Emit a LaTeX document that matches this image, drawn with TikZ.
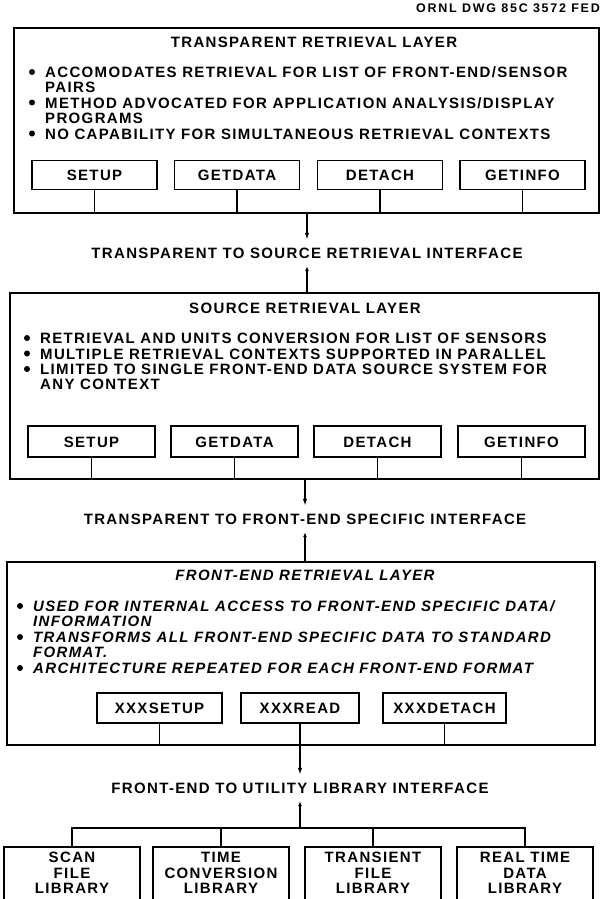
\documentclass[tikz,border=0pt]{standalone}
\usepackage{fontspec}
\setmainfont{Liberation Sans}[LetterSpace=9]
\usetikzlibrary{arrows.meta}
\begin{document}
\begin{tikzpicture}[x=1pt,y=-1pt,
  txt/.style={font=\fontsize{15}{15.5}\selectfont\bfseries, inner sep=0pt},
  itxt/.style={font=\fontsize{15}{15.5}\selectfont\bfseries\itshape, inner sep=0pt},
  frame/.style={draw, line width=1.6pt, inner sep=0pt},
  subbox/.style={draw, line width=1.6pt, txt, text height=11pt, text depth=0pt, minimum width=#1, minimum height=29pt},
  bdot/.style={circle, fill, inner sep=0pt, minimum size=6pt},
  iflabel/.style={txt, text height=11pt, text depth=0pt, inner ysep=7.5pt},
  conn/.style={line width=1.6pt},
  downarrow/.style={conn, -{Latex[length=7pt,width=4.5pt]}},
  uparrow/.style={conn, {Latex[length=5pt,width=4pt]}-},
]
\useasboundingbox (0,0) rectangle (608,899);
\clip (0,0) rectangle (608,899);

% drawing number
\node[anchor=base east, font=\fontsize{12.5}{14}\selectfont\bfseries\addfontfeature{LetterSpace=14}, inner sep=0pt] (dwg) at (600,13) {ORNL DWG 85C 3572 FED};

% ---------------- Layer 1 ----------------
\node[frame, minimum width=585pt, minimum height=185pt] (tl) at (306.5,120.5) {};
\node[txt, anchor=base] (tlt) at (314,47.5) {TRANSPARENT RETRIEVAL LAYER};
\node[bdot] (d11) at (32,72) {};
\node[txt, anchor=base west] (t11) at (45,77.5) {ACCOMODATES RETRIEVAL FOR LIST OF FRONT-END/SENSOR};
\node[txt, anchor=base west] (t12) at (45,92.5) {PAIRS};
\node[bdot] (d12) at (32,102.5) {};
\node[txt, anchor=base west] (t13) at (45,108) {METHOD ADVOCATED FOR APPLICATION ANALYSIS/DISPLAY};
\node[txt, anchor=base west] (t14) at (45,123.5) {PROGRAMS};
\node[bdot] (d13) at (32,133.5) {};
\node[txt, anchor=base west] (t15) at (45,139) {NO CAPABILITY FOR SIMULTANEOUS RETRIEVAL CONTEXTS};

\node[subbox=125pt] (a1) at (94.5,175) {SETUP};
\node[subbox=125pt] (a2) at (237,175) {GETDATA};
\node[subbox=125pt] (a3) at (380,175) {DETACH};
\node[subbox=125pt] (a4) at (522.5,175) {GETINFO};
\foreach \n in {a1,a2,a3,a4} \draw[conn] (\n.south) -- (\n.south |- tl.south);

\node[iflabel] (if1) at (307,253) {TRANSPARENT TO SOURCE RETRIEVAL INTERFACE};
\draw[downarrow] (if1.north |- tl.south) -- (if1.north);

% ---------------- Layer 2 ----------------
\node[frame, minimum width=589pt, minimum height=186pt] (sl) at (304.5,386) {};
\draw[uparrow] (if1.south) -- (if1.south |- sl.north);
\node[txt, anchor=base] (slt) at (305,313.5) {SOURCE RETRIEVAL LAYER};
\node[bdot] (d21) at (27,338) {};
\node[txt, anchor=base west] (t21) at (40,343.5) {RETRIEVAL AND UNITS CONVERSION FOR LIST OF SENSORS};
\node[bdot] (d22) at (27,353.5) {};
\node[txt, anchor=base west] (t22) at (40,359) {MULTIPLE RETRIEVAL CONTEXTS SUPPORTED IN PARALLEL};
\node[bdot] (d23) at (27,369) {};
\node[txt, anchor=base west] (t23) at (40,374.5) {LIMITED TO SINGLE FRONT-END DATA SOURCE SYSTEM FOR};
\node[txt, anchor=base west] (t24) at (40,389.5) {ANY CONTEXT};

\node[subbox=127pt, minimum height=31pt] (b1) at (91.5,441.5) {SETUP};
\node[subbox=127pt, minimum height=31pt] (b2) at (234.5,441.5) {GETDATA};
\node[subbox=127pt, minimum height=31pt] (b3) at (377.5,441.5) {DETACH};
\node[subbox=127pt, minimum height=31pt] (b4) at (521.5,441.5) {GETINFO};
\foreach \n in {b1,b2,b3,b4} \draw[conn] (\n.south) -- (\n.south |- sl.south);

\node[iflabel] (if2) at (305,519) {TRANSPARENT TO FRONT-END SPECIFIC INTERFACE};
\draw[downarrow] (if2.north |- sl.south) -- (if2.north);

% ---------------- Layer 3 ----------------
\node[frame, minimum width=588pt, minimum height=183pt] (fl) at (301,653.5) {};
\draw[uparrow] (if2.south) -- (if2.south |- fl.north);
\node[itxt, anchor=base] (flt) at (305,580.5) {FRONT-END RETRIEVAL LAYER};
\node[bdot] (d31) at (20,606) {};
\node[itxt, anchor=base west] (t31) at (33,611.5) {USED FOR INTERNAL ACCESS TO FRONT-END SPECIFIC DATA/};
\node[itxt, anchor=base west] (t32) at (33,626.5) {INFORMATION};
\node[bdot] (d32) at (20,637) {};
\node[itxt, anchor=base west] (t33) at (33,642.5) {TRANSFORMS ALL FRONT-END SPECIFIC DATA TO STANDARD};
\node[itxt, anchor=base west] (t34) at (33,657.5) {FORMAT.};
\node[bdot] (d33) at (20,668) {};
\node[itxt, anchor=base west] (t35) at (33,673.5) {ARCHITECTURE REPEATED FOR EACH FRONT-END FORMAT};

\node[subbox=125pt, minimum height=30pt] (c1) at (159.5,708) {XXXSETUP};
\node[subbox=118pt, minimum height=30pt] (c2) at (300,708) {XXXREAD};
\node[subbox=123pt, minimum height=30pt] (c3) at (444.5,708) {XXXDETACH};
\draw[conn] (c1.south) -- (c1.south |- fl.south);
\draw[conn] (c3.south) -- (c3.south |- fl.south);

\node[iflabel] (if3) at (300,788) {FRONT-END TO UTILITY LIBRARY INTERFACE};
\draw[downarrow] (c2.south) -- (c2.south |- if3.north);

% ---------------- Libraries ----------------
\coordinate (bar) at (300,828);
\node[frame, minimum width=136pt, minimum height=64pt, anchor=north] (lib1) at (72,846) {};
\node[frame, minimum width=136pt, minimum height=64pt, anchor=north] (lib2) at (221,846) {};
\node[frame, minimum width=136pt, minimum height=64pt, anchor=north] (lib3) at (373,846) {};
\node[frame, minimum width=136pt, minimum height=64pt, anchor=north] (lib4) at (525,846) {};
\node[txt, align=center] (lt1) at (72,873) {SCAN\\FILE\\LIBRARY};
\node[txt, align=center] (lt2) at (221,873) {TIME\\CONVERSION\\LIBRARY};
\node[txt, align=center] (lt3) at (373,873) {TRANSIENT\\FILE\\LIBRARY};
\node[txt, align=center] (lt4) at (525,873) {REAL TIME\\DATA\\LIBRARY};

\draw[uparrow] (if3.south) -- (bar);
\draw[conn] (lib1.north) -- (lib1.north |- bar) -- (lib4.north |- bar) -- (lib4.north);
\draw[conn] (lib2.north) -- (lib2.north |- bar);
\draw[conn] (lib3.north) -- (lib3.north |- bar);
\end{tikzpicture}
\end{document}
